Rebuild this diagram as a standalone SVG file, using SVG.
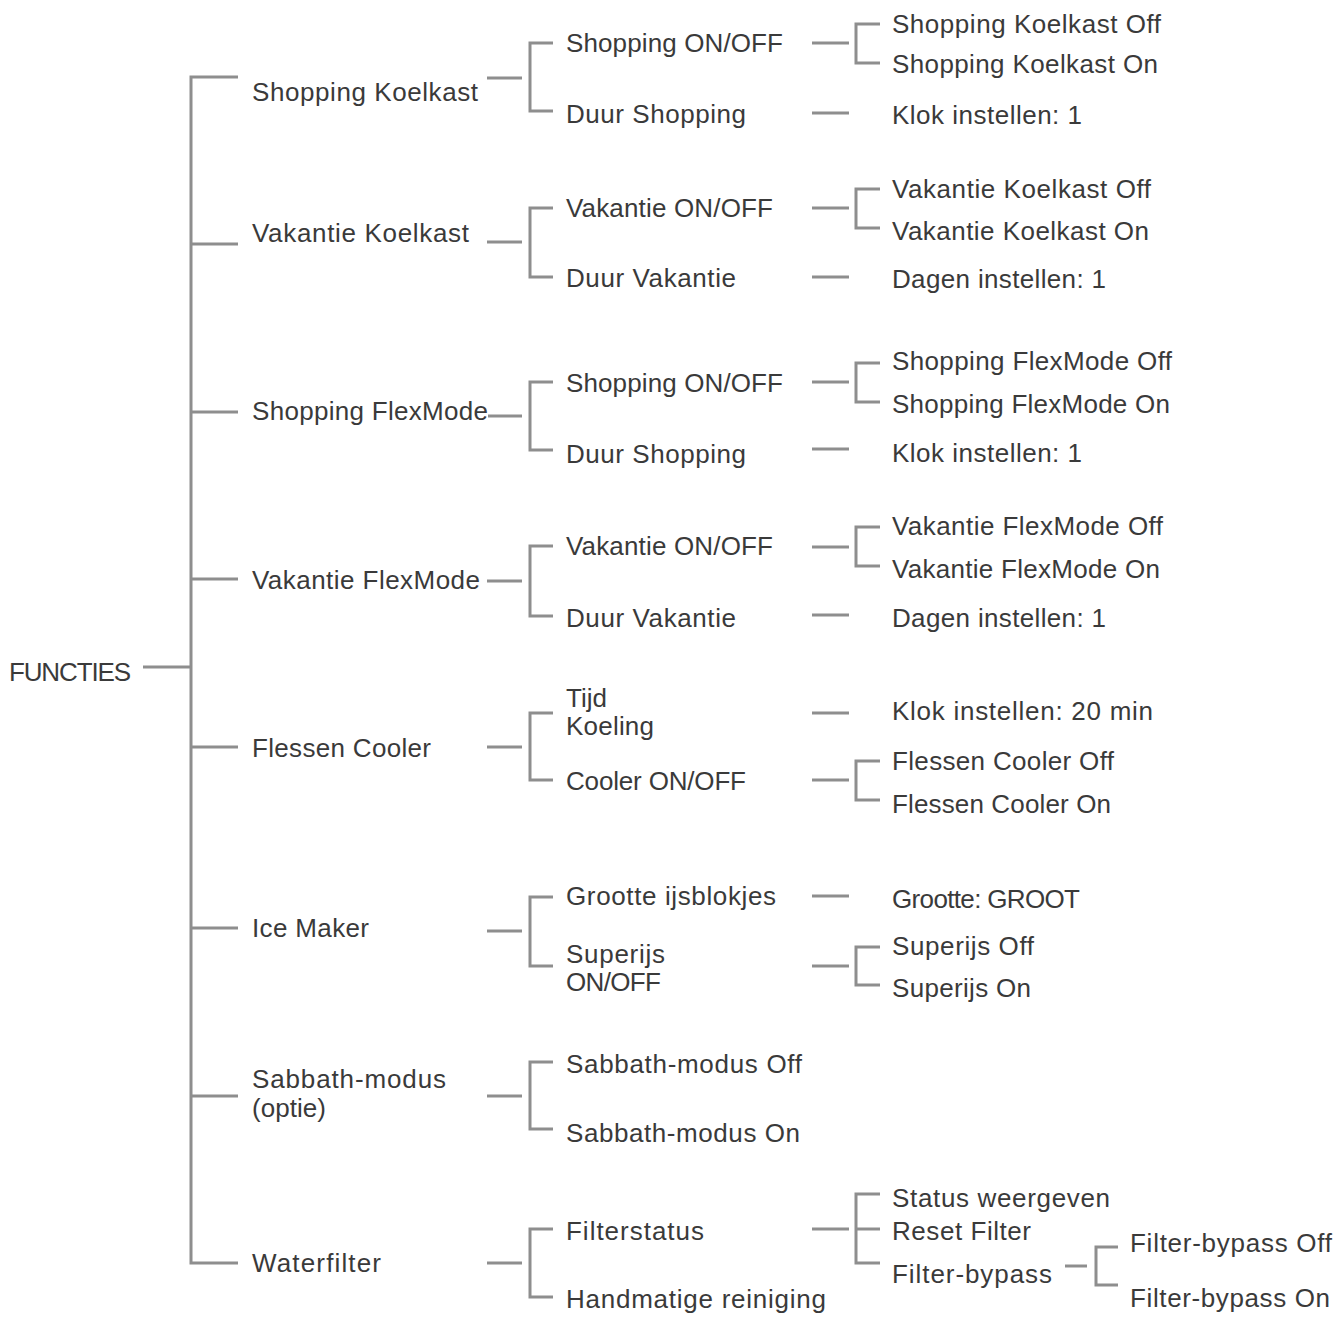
<svg xmlns="http://www.w3.org/2000/svg" width="1337" height="1324" viewBox="0 0 1337 1324">
<style>
text{font-family:"Liberation Sans",Arial,sans-serif;font-size:26px;fill:#3a3a3a}
.c path,.c line{stroke:#8e8e8e;stroke-width:3;fill:none}
</style>
<rect width="1337" height="1324" fill="#fff"/>
<g class="c" id="connectors">
<line x1="143" y1="667" x2="191" y2="667"/>
<path d="M238,77 H191 V1263 H238"/>
<line x1="191" y1="244" x2="238" y2="244"/>
<line x1="191" y1="412" x2="238" y2="412"/>
<line x1="191" y1="579" x2="238" y2="579"/>
<line x1="191" y1="747" x2="238" y2="747"/>
<line x1="191" y1="928" x2="238" y2="928"/>
<line x1="191" y1="1096" x2="238" y2="1096"/>
<line x1="487" y1="78" x2="522" y2="78"/><path d="M553,43 H530 V111 H553"/>
<line x1="487" y1="242" x2="522" y2="242"/><path d="M553,208 H530 V277 H553"/>
<line x1="488" y1="416" x2="522" y2="416"/><path d="M553,382 H530 V450 H553"/>
<line x1="487" y1="581" x2="522" y2="581"/><path d="M553,546 H530 V616 H553"/>
<line x1="487" y1="747" x2="522" y2="747"/><path d="M553,713 H530 V780 H553"/>
<line x1="487" y1="931" x2="522" y2="931"/><path d="M553,897 H530 V966 H553"/>
<line x1="487" y1="1096" x2="522" y2="1096"/><path d="M553,1062 H530 V1129 H553"/>
<line x1="487" y1="1263" x2="522" y2="1263"/><path d="M553,1229 H530 V1297 H553"/>
<line x1="812" y1="43" x2="849" y2="43"/><path d="M880,24 H856 V63 H880"/>
<line x1="812" y1="113" x2="849" y2="113"/>
<line x1="812" y1="208" x2="849" y2="208"/><path d="M880,189 H856 V228 H880"/>
<line x1="812" y1="277" x2="849" y2="277"/>
<line x1="812" y1="382" x2="849" y2="382"/><path d="M880,363 H856 V402 H880"/>
<line x1="812" y1="449" x2="849" y2="449"/>
<line x1="812" y1="547" x2="849" y2="547"/><path d="M880,527 H856 V566 H880"/>
<line x1="812" y1="615" x2="849" y2="615"/>
<line x1="812" y1="713" x2="849" y2="713"/>
<line x1="812" y1="780" x2="849" y2="780"/><path d="M880,761 H856 V800 H880"/>
<line x1="812" y1="896" x2="849" y2="896"/>
<line x1="812" y1="966" x2="849" y2="966"/><path d="M880,947 H856 V985 H880"/>
<line x1="812" y1="1229" x2="849" y2="1229"/><path d="M880,1194 H856 V1263 H880"/><line x1="856" y1="1229" x2="880" y2="1229"/>
<line x1="1065" y1="1266" x2="1087" y2="1266"/><path d="M1118,1247 H1096 V1285 H1118"/>
</g>
<g id="n-functies"><text x="9" y="681" textLength="122">FUNCTIES</text></g>
<g id="n-shopping-koelkast"><text x="252" y="101" textLength="226">Shopping Koelkast</text></g>
<g id="n-vakantie-koelkast"><text x="252" y="242" textLength="217">Vakantie Koelkast</text></g>
<g id="n-shopping-flexmode"><text x="252" y="420" textLength="236">Shopping FlexMode</text></g>
<g id="n-vakantie-flexmode"><text x="252" y="589" textLength="228">Vakantie FlexMode</text></g>
<g id="n-flessen-cooler"><text x="252" y="757" textLength="179">Flessen Cooler</text></g>
<g id="n-ice-maker"><text x="252" y="937" textLength="117">Ice Maker</text></g>
<g id="n-sabbath"><text x="252" y="1088" textLength="194">Sabbath-modus</text><text x="252" y="1117" textLength="74">(optie)</text></g>
<g id="n-waterfilter"><text x="252" y="1272" textLength="129">Waterfilter</text></g>
<g id="n-sk-onoff"><text x="566" y="52" textLength="217">Shopping ON/OFF</text></g>
<g id="n-sk-duur"><text x="566" y="123" textLength="180">Duur Shopping</text></g>
<g id="n-vk-onoff"><text x="566" y="217" textLength="207">Vakantie ON/OFF</text></g>
<g id="n-vk-duur"><text x="566" y="287" textLength="170">Duur Vakantie</text></g>
<g id="n-sf-onoff"><text x="566" y="392" textLength="217">Shopping ON/OFF</text></g>
<g id="n-sf-duur"><text x="566" y="463" textLength="180">Duur Shopping</text></g>
<g id="n-vf-onoff"><text x="566" y="555" textLength="207">Vakantie ON/OFF</text></g>
<g id="n-vf-duur"><text x="566" y="627" textLength="170">Duur Vakantie</text></g>
<g id="n-fc-tijd"><text x="566" y="707" textLength="41">Tijd</text><text x="566" y="735" textLength="88">Koeling</text></g>
<g id="n-fc-onoff"><text x="566" y="790" textLength="180">Cooler ON/OFF</text></g>
<g id="n-im-grootte"><text x="566" y="905" textLength="210">Grootte ijsblokjes</text></g>
<g id="n-im-superijs"><text x="566" y="963" textLength="99">Superijs</text><text x="566" y="991" textLength="95">ON/OFF</text></g>
<g id="n-sab-off"><text x="566" y="1073" textLength="236">Sabbath-modus Off</text></g>
<g id="n-sab-on"><text x="566" y="1142" textLength="234">Sabbath-modus On</text></g>
<g id="n-wf-status"><text x="566" y="1240" textLength="138">Filterstatus</text></g>
<g id="n-wf-hand"><text x="566" y="1308" textLength="260">Handmatige reiniging</text></g>
<g id="n-sk-off"><text x="892" y="33" textLength="269">Shopping Koelkast Off</text></g>
<g id="n-sk-on"><text x="892" y="73" textLength="266">Shopping Koelkast On</text></g>
<g id="n-sk-klok"><text x="892" y="124" textLength="190">Klok instellen: 1</text></g>
<g id="n-vk-off"><text x="892" y="198" textLength="259">Vakantie Koelkast Off</text></g>
<g id="n-vk-on"><text x="892" y="240" textLength="257">Vakantie Koelkast On</text></g>
<g id="n-vk-dagen"><text x="892" y="288" textLength="214">Dagen instellen: 1</text></g>
<g id="n-sf-off"><text x="892" y="370" textLength="280">Shopping FlexMode Off</text></g>
<g id="n-sf-on"><text x="892" y="413" textLength="278">Shopping FlexMode On</text></g>
<g id="n-sf-klok"><text x="892" y="462" textLength="190">Klok instellen: 1</text></g>
<g id="n-vf-off"><text x="892" y="535" textLength="271">Vakantie FlexMode Off</text></g>
<g id="n-vf-on"><text x="892" y="578" textLength="268">Vakantie FlexMode On</text></g>
<g id="n-vf-dagen"><text x="892" y="627" textLength="214">Dagen instellen: 1</text></g>
<g id="n-fc-klok"><text x="892" y="720" textLength="261">Klok instellen: 20 min</text></g>
<g id="n-fc-off"><text x="892" y="770" textLength="222">Flessen Cooler Off</text></g>
<g id="n-fc-on"><text x="892" y="813" textLength="219">Flessen Cooler On</text></g>
<g id="n-im-groot"><text x="892" y="908" textLength="188">Grootte: GROOT</text></g>
<g id="n-im-off"><text x="892" y="955" textLength="142">Superijs Off</text></g>
<g id="n-im-on"><text x="892" y="997" textLength="139">Superijs On</text></g>
<g id="n-wf-weergeven"><text x="892" y="1207" textLength="218">Status weergeven</text></g>
<g id="n-wf-reset"><text x="892" y="1240" textLength="139">Reset Filter</text></g>
<g id="n-wf-bypass"><text x="892" y="1283" textLength="160">Filter-bypass</text></g>
<g id="n-bypass-off"><text x="1130" y="1252" textLength="202">Filter-bypass Off</text></g>
<g id="n-bypass-on"><text x="1130" y="1307" textLength="200">Filter-bypass On</text></g>
</svg>
